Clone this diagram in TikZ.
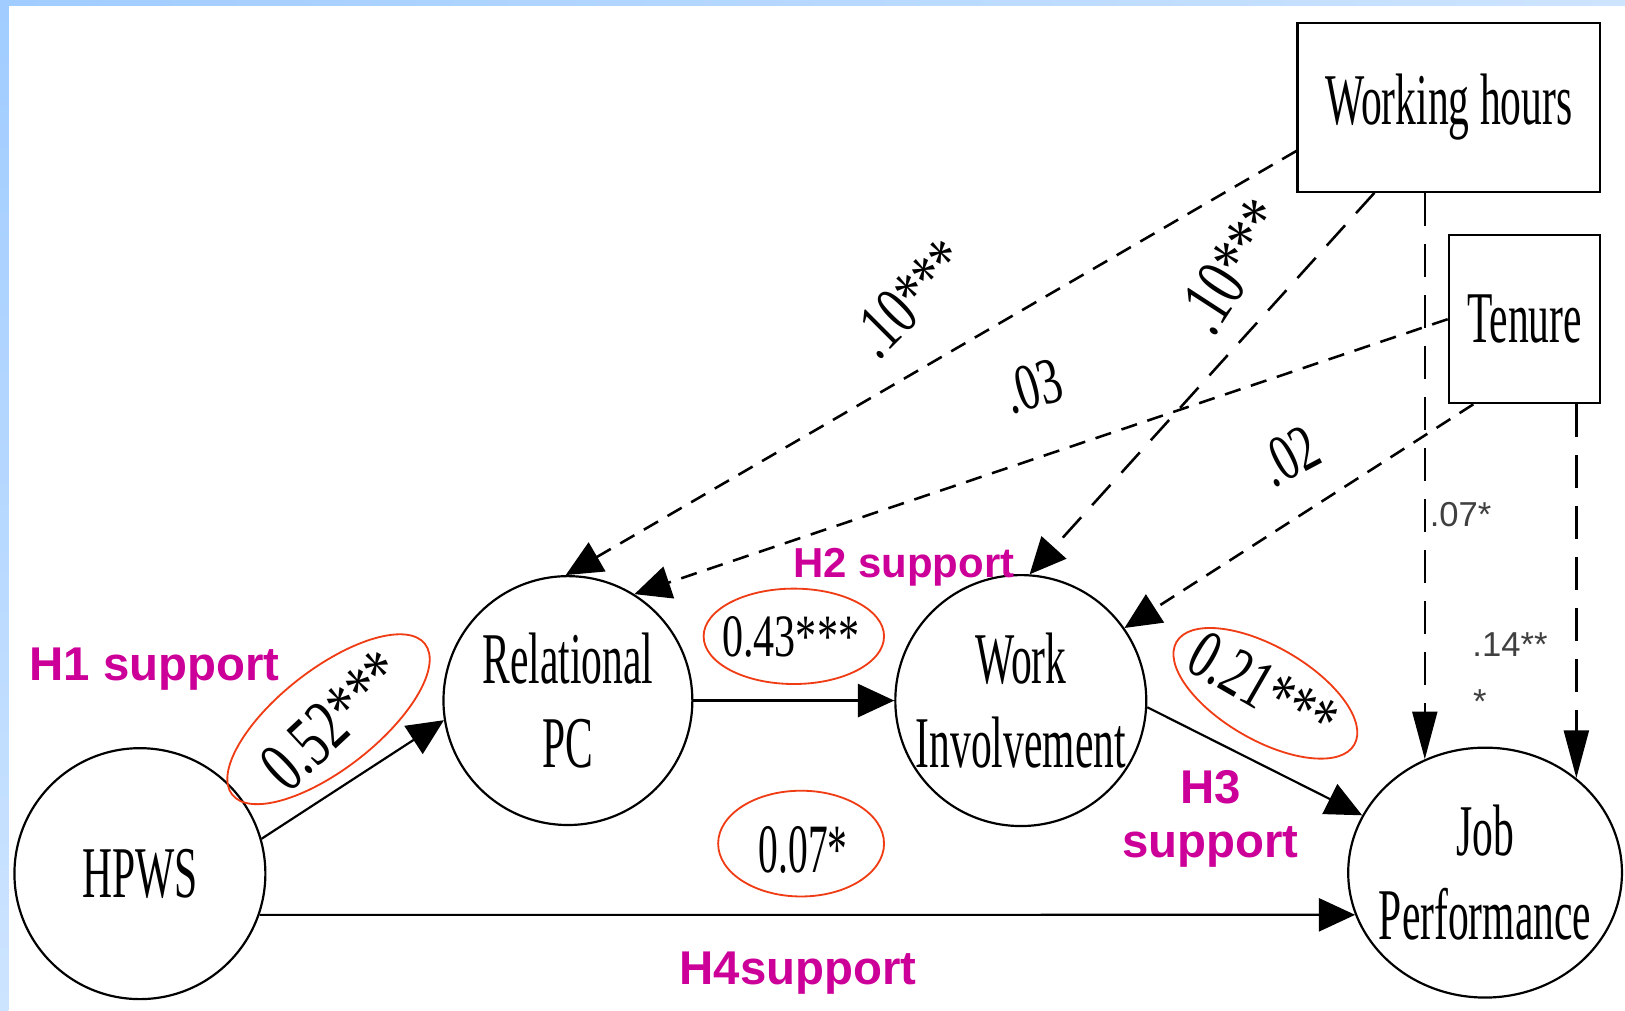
\documentclass[tikz,border=0pt]{standalone}
\usepackage{fontspec}
\usepackage{tikz}
\usetikzlibrary{arrows.meta,shapes}

\newfontfamily\condserif[FakeStretch=0.57]{Liberation Serif}
\newfontfamily\coefserif[FakeStretch=0.7]{Liberation Serif}
\newfontfamily\hypsans{Liberation Sans}
\definecolor{hypcolor}{RGB}{204,0,153}
\definecolor{ringcolor}{RGB}{240,60,20}
\definecolor{frameA}{RGB}{160,204,255}
\definecolor{frameB}{RGB}{205,228,255}

\begin{document}
\begin{tikzpicture}
[x=0.01cm, y=-0.01cm]
\tikzset{
	latent/.style = {circle, draw, line width=0.6pt, minimum size=2.42cm, inner sep=0pt, align=center, font=\condserif\fontsize{20}{23}\selectfont},
	observed/.style = {rectangle, draw, line width=0.6pt, inner sep=0pt, font=\condserif\fontsize{20}{23}\selectfont},
	coef/.style = {inner sep=0pt, font=\coefserif\fontsize{#1}{#1}\selectfont},
	coef/.default = 19,
	small coef/.style = {inner sep=0pt, text=black!75, font=\hypsans\fontsize{9.5}{10}\selectfont},
	hyp/.style = {inner sep=0pt, text=hypcolor, align=center, font=\hypsans\bfseries\fontsize{#1}{15}\selectfont},
	hyp/.default = 13,
	sigring/.style = {ellipse, draw=ringcolor, line width=0.5pt, inner sep=0pt},
	effect/.style = {line width=0.6pt, -{Triangle[length=3.5mm,width=3.2mm]}},
	control/.style = {line width=0.7pt, dash pattern=on 4.5pt off 3pt, -{Triangle[length=3.5mm,width=3.2mm]}},
	control mid/.style = {line width=0.7pt, dash pattern=on 7.5pt off 4.5pt, -{Triangle[length=3.5mm,width=3.2mm]}},
	control long/.style = {line width=0.7pt, dash pattern=on 9pt off 5pt, -{Triangle[length=4.6mm,width=2.4mm]}}
}

\useasboundingbox (0,0) rectangle (1568,975.5);
\fill[white] (0,0) rectangle (1568,975.5);
\shade[left color=frameA, right color=frameB] (0,0) rectangle (1568,5);
\shade[top color=frameA, bottom color=frameB] (0,0) rectangle (8,975.5);

\node (hpws) [latent] at (135,843) {HPWS};
\node (rel) [latent, minimum size=2.40cm] at (548,676) {Relational\\PC};
\node (wi) [latent] at (985,676) {Work\\Involvement};
\node (job) [latent, ellipse, inner xsep=-0.2cm, minimum width=2.64cm, minimum height=2.41cm] at (1433,842) {Job\\Performance};
\node (hours) [observed, minimum width=2.92cm, minimum height=1.63cm] at (1398,103.5) {Working hours};
\node (tenure) [observed, minimum width=1.46cm, minimum height=1.62cm] at (1471,308) {Tenure};

\draw [effect] (hpws.16) -- (rel.189);
\draw [effect] (rel.east) -- (wi.west);
\draw [effect] (wi.-3) -- (job.155);
\draw [effect] (hpws.-19) -- (job.198);

\draw [control] (hours.196) -- (rel.91);
\draw [control mid] (hours.229) -- (wi.86);
\draw [control long] (job.118 |- hours.south) -- (job.118);
\draw [control] (tenure.west) -- (rel.58);
\draw [control] (tenure.239) -- (wi.35);
\draw [control long] (job.46.7 |- tenure.south) -- (job.46.7);

\node (ring52) [sigring, rotate=38, minimum width=2.36cm, minimum height=0.96cm] at (317,694) {};
\node (ring43) [sigring, minimum width=1.74cm, minimum height=0.92cm] at (766,614) {};
\node (ring07) [sigring, minimum width=1.60cm, minimum height=1.02cm] at (773,814) {};
\node (ring21) [sigring, rotate=-30, minimum width=1.98cm, minimum height=0.90cm] at (1221,669) {};

\node (c52) [coef=20, rotate=43] at (321,695) {0.52***};
\node (c43) [coef=16.5] at (763,615) {0.43***};
\node (c07) [coef, font=\condserif\fontsize{19}{19}\selectfont] at (775,820) {0.07*};
\node (c21) [coef, rotate=-30] at (1219,664) {0.21***};
\node (w10a) [coef, rotate=45] at (878,288) {.10***};
\node (w10b) [coef=20, rotate=57] at (1189,257) {.10***};
\node (t03) [coef=18, rotate=16] at (997,373) {.03};
\node (t02) [coef=18, rotate=28] at (1244,440) {.02};

\node (p07) [small coef, anchor=west] at (1379,497) {.07*};
\node (p14) [small coef] at (1457,622) {.14**};
\node (p14s) [small coef] at (1428,677) {*};

\node (h1) [hyp, anchor=base] at (149,657) {H1 support};
\node (h2) [hyp=11.5, anchor=base] at (872,557) {H2 support};
\node (h3) [hyp] at (1168,790) {H3\\support};
\node (h4) [hyp, anchor=base] at (770,950) {H4support};
\end{tikzpicture}
\end{document}
